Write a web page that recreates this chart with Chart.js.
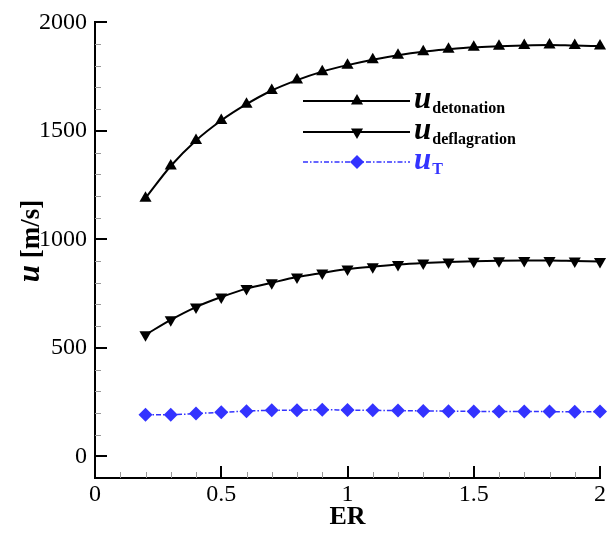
<!DOCTYPE html>
<html>
<head>
<meta charset="utf-8">
<script src="https://cdn.jsdelivr.net/npm/chart.js@4.4.0/dist/chart.umd.min.js"></script>
<style>
html,body{margin:0;padding:0;background:#fff;}
#wrap{width:613px;height:533px;position:relative;}
</style>
</head>
<body>
<div id="wrap"><canvas id="c" width="613" height="533"></canvas></div>
<script>
// ---- data ----
const erValues = [0.2,0.3,0.4,0.5,0.6,0.7,0.8,0.9,1.0,1.1,1.2,1.3,1.4,1.5,1.6,1.7,1.8,1.9,2.0];
const uDetonation = [1190,1338,1456,1548,1623,1686,1734,1773,1803,1828,1849,1865,1876,1885,1890,1894,1896,1893,1891];
const uDeflagration = [560,629,688,734,773,800,826,845,863,874,884,891,896,899,901,902,902,900,898];
const uT = [192,192,197,203,208,212,212,215,213,212,211,209,208,207,207,206,206,205,206];
const xTickValues = [0,0.5,1,1.5,2];
const yTickValues = [0,500,1000,1500,2000];
const xMinorStep = 0.1;
const yMinorStep = 100;
const seriesNames = ['detonation','deflagration','T'];

const SERIF = '"Liberation Serif","Times New Roman",serif';
const BLUE = '#3333ff';
const DASH = [5,2,1.5,2];

const toPts = arr => arr.map((v,i)=>({x:erValues[i], y:v}));

function drawMarker(ctx, style, x, y, r, color){
  ctx.save();
  ctx.fillStyle = color;
  ctx.beginPath();
  if(style==='up'){
    ctx.moveTo(x, y-r);
    ctx.lineTo(x+r*0.866, y+r*0.5);
    ctx.lineTo(x-r*0.866, y+r*0.5);
  } else if(style==='down'){
    ctx.moveTo(x, y+r);
    ctx.lineTo(x+r*0.866, y-r*0.5);
    ctx.lineTo(x-r*0.866, y-r*0.5);
  } else {
    ctx.moveTo(x, y-r); ctx.lineTo(x+r, y); ctx.lineTo(x, y+r); ctx.lineTo(x-r, y);
  }
  ctx.closePath();
  ctx.fill();
  ctx.restore();
}

const decorPlugin = {
  id:'decor',
  afterDraw(chart){
    const ctx = chart.ctx;
    const xs = chart.scales.x, ys = chart.scales.y;
    const ca = chart.chartArea;
    ctx.save();
    // minor ticks (inward)
    ctx.strokeStyle = '#999';
    ctx.lineWidth = 1;
    for(let v = xs.min; v <= xs.max + 1e-9; v += xMinorStep){
      const vv = Math.round(v*10)/10;
      if(xTickValues.some(t=>Math.abs(t-vv)<1e-9)) continue;
      const px = Math.round(xs.getPixelForValue(vv))+0.5;
      ctx.beginPath(); ctx.moveTo(px, ca.bottom); ctx.lineTo(px, ca.bottom-6); ctx.stroke();
    }
    for(let v = 0; v <= ys.max; v += yMinorStep){
      if(yTickValues.includes(v)) continue;
      const py = Math.round(ys.getPixelForValue(v))+0.5;
      ctx.beginPath(); ctx.moveTo(ca.left, py); ctx.lineTo(ca.left+6, py); ctx.stroke();
    }
    // major ticks
    ctx.strokeStyle = '#000';
    ctx.lineWidth = 2;
    xTickValues.forEach(v=>{
      const px = Math.round(xs.getPixelForValue(v));
      ctx.beginPath(); ctx.moveTo(px, ca.bottom); ctx.lineTo(px, ca.bottom-12); ctx.stroke();
    });
    yTickValues.forEach(v=>{
      const py = Math.round(ys.getPixelForValue(v));
      ctx.beginPath(); ctx.moveTo(ca.left, py); ctx.lineTo(ca.left+12, py); ctx.stroke();
    });

    // y axis title
    ctx.save();
    ctx.translate(31, 241);
    ctx.rotate(-Math.PI/2);
    ctx.fillStyle = '#000';
    ctx.textBaseline = 'alphabetic';
    const fU = 'italic bold 31px '+SERIF;
    const fR = 'bold 27px '+SERIF;
    ctx.font = fU; const wU = ctx.measureText('u').width;
    ctx.font = fR; const wR = ctx.measureText(' [m/s]').width;
    let sx = -(wU+wR)/2;
    ctx.font = fU; ctx.fillText('u', sx, 8);
    ctx.font = fR; ctx.fillText(' [m/s]', sx+wU, 8);
    ctx.restore();

    // legend
    const rows = [
      {y:101, style:'up', color:'#000', dash:[], lw:2, sub:seriesNames[0]},
      {y:132, style:'down', color:'#000', dash:[], lw:2, sub:seriesNames[1]},
      {y:162, style:'diamond', color:BLUE, dash:DASH, lw:1.5, sub:seriesNames[2]}
    ];
    rows.forEach(r=>{
      ctx.save();
      ctx.strokeStyle = r.color; ctx.lineWidth = r.lw; ctx.setLineDash(r.dash);
      ctx.beginPath(); ctx.moveTo(303, r.y); ctx.lineTo(410, r.y); ctx.stroke();
      ctx.restore();
      drawMarker(ctx, r.style, 357, r.y, 7, r.color);
      ctx.fillStyle = r.color;
      ctx.textBaseline = 'alphabetic';
      ctx.font = 'italic bold 31px '+SERIF;
      ctx.fillText('u', 414, r.y+7);
      const w = ctx.measureText('u').width;
      ctx.font = 'bold 16px '+SERIF;
      ctx.fillText(r.sub, 414+w+1, r.y+12);
    });
    ctx.restore();
  }
};

new Chart(document.getElementById('c'), {
  type:'scatter',
  data:{
    datasets:[
      {label:'u_detonation', data:toPts(uDetonation), showLine:true, borderColor:'#000', backgroundColor:'#000', clip:false,
       borderWidth:2, pointStyle:'triangle', pointRadius:7, pointBorderWidth:0, cubicInterpolationMode:'monotone'},
      {label:'u_deflagration', data:toPts(uDeflagration), showLine:true, borderColor:'#000', backgroundColor:'#000', clip:false,
       borderWidth:2, pointStyle:'triangle', rotation:180, pointRadius:7, pointBorderWidth:0, cubicInterpolationMode:'monotone'},
      {label:'u_T', data:toPts(uT), showLine:true, borderColor:BLUE, backgroundColor:BLUE, clip:false,
       borderWidth:1.5, borderDash:DASH, pointStyle:'rectRot', pointRadius:7, pointBorderWidth:0, cubicInterpolationMode:'monotone'}
    ]
  },
  options:{
    responsive:false,
    animation:false,
    devicePixelRatio:1,
    layout:{padding:{left:0,right:13,top:16,bottom:0}},
    plugins:{legend:{display:false}, tooltip:{enabled:false}},
    scales:{
      x:{
        type:'linear', min:0, max:2,
        afterBuildTicks:s=>{ s.ticks = xTickValues.map(v=>({value:v})); },
        afterFit:s=>{ s.height = 55; },
        grid:{display:false, drawTicks:false},
        border:{display:true, color:'#000', width:2},
        ticks:{color:'#000', padding:2, font:{family:SERIF, size:24}, maxRotation:0, autoSkip:false,
          callback:v=>String(v)},
        title:{display:true, text:'ER', color:'#000', font:{family:SERIF, size:26, weight:'bold'}, padding:{top:0,bottom:0}}
      },
      y:{
        type:'linear', min:-100, max:2000,
        afterBuildTicks:s=>{ s.ticks = yTickValues.map(v=>({value:v})); },
        afterFit:s=>{ s.width = 95; },
        grid:{display:false, drawTicks:false},
        border:{display:true, color:'#000', width:2},
        ticks:{color:'#000', padding:8, font:{family:SERIF, size:24}, autoSkip:false, callback:v=>String(v)}
      }
    }
  },
  plugins:[decorPlugin]
});
</script>
</body>
</html>
